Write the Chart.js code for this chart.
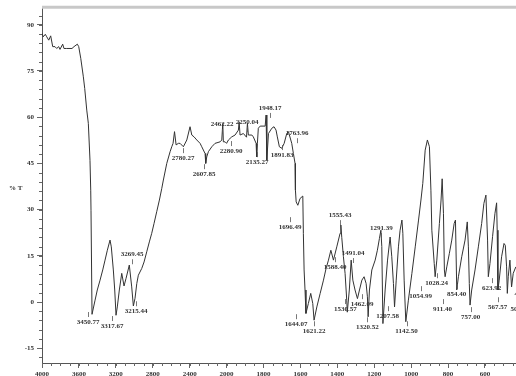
<!DOCTYPE html>
<html>
<head>
<meta charset="utf-8">
<script src="https://cdn.jsdelivr.net/npm/chart.js@4"></script>
<style>
html, body { margin: 0; padding: 0; background: #fff; overflow: hidden; }
</style>
</head>
<body>
<canvas id="ftir" width="516" height="376"></canvas>
<script>
// spectrum: wavenumber (cm-1) and %T
const waveNumbers = [
    4000, 3986, 3964, 3949, 3927, 3906, 3884, 3859, 3841, 3819, 3805, 3776, 3762, 3732, 3675, 3653,
    3617, 3602, 3580, 3552, 3537, 3515, 3498, 3480, 3472, 3469, 3458, 3425, 3401, 3371, 3342, 3317,
    3292, 3263, 3249, 3227, 3212, 3198, 3184, 3162, 3136, 3111, 3089, 3054, 3028, 3010, 2992, 2973,
    2956, 2919, 2894, 2865, 2837, 2811, 2786, 2757, 2728, 2702, 2685, 2648, 2612, 2594, 2580, 2564,
    2547, 2522, 2504, 2468, 2431, 2396, 2377, 2352, 2323, 2287, 2269, 2233, 2226, 2215, 2197, 2160,
    2125, 2070, 2052, 2041, 2035, 2016, 2000, 1990, 1972, 1954, 1936, 1932, 1927, 1909, 1892, 1887,
    1882, 1863, 1855, 1840, 1837, 1833, 1828, 1818, 1791, 1786, 1782, 1773, 1755, 1743, 1732, 1725,
    1714, 1701, 1688, 1674, 1665, 1647, 1638, 1629, 1627, 1623, 1614, 1602, 1587, 1584, 1580, 1575,
    1570, 1557, 1544, 1533, 1526, 1511, 1493, 1475, 1461, 1448, 1435, 1421, 1403, 1385, 1381, 1376,
    1367, 1358, 1349, 1346, 1335, 1325, 1316, 1304, 1291, 1280, 1267, 1255, 1244, 1237, 1233, 1226,
    1213, 1195, 1183, 1172, 1164, 1159, 1153, 1141, 1128, 1114, 1105, 1096, 1090, 1081, 1069, 1060,
    1050, 1045, 1038, 1029, 1015, 996, 978, 960, 947, 937, 924, 912, 901, 893, 888, 875,
    870, 861, 847, 838, 832, 825, 820, 816, 807, 793, 780, 767, 760, 753, 744, 726,
    708, 696, 690, 685, 681, 672, 654, 636, 618, 606, 595, 586, 582, 573, 559, 546,
    537, 534, 530, 523, 510, 497, 490, 483, 479, 474, 465, 456, 447, 433
];
const transmittance = [
    87.2, 86.1, 86.9, 86.1, 85.0, 86.4, 82.9, 82.9, 82.3, 82.9, 82.0, 83.7, 82.3, 82.3, 82.3, 82.9,
    83.7, 82.9, 79.1, 73.1, 69.3, 62.3, 58.0, 46.0, 36.3, 29.8, -4.0, 0.6, 3.9, 7.1, 10.4, 13.6,
    16.8, 20.1, 17.9, 10.4, 3.9, -4.3, -1.6, 3.9, 9.3, 5.2, 7.7, 12.0, 4.9, -1.3, 1.2, 6.0,
    8.7, 10.9, 13.0, 16.3, 19.5, 22.3, 25.5, 29.3, 33.1, 36.9, 39.6, 45.0, 48.8, 50.4, 51.5, 55.3,
    51.0, 51.5, 51.5, 50.4, 52.6, 56.9, 54.2, 53.6, 52.6, 51.5, 50.4, 48.2, 45.0, 47.1, 48.8, 50.4,
    51.5, 52.0, 52.6, 58.0, 52.0, 52.0, 51.5, 52.6, 53.6, 54.2, 55.8, 58.5, 54.2, 54.7, 53.5, 58.0,
    54.2, 54.2, 53.6, 51.5, 47.1, 51.5, 56.4, 57.1, 57.1, 60.7, 46.1, 54.7, 56.4, 56.9, 55.8, 53.6,
    50.4, 49.9, 51.5, 54.7, 55.3, 51.5, 48.2, 45.0, 36.3, 32.5, 31.4, 33.6, 34.4, 22.3, 10.4, 3.9,
    -3.7, -0.5, 2.8, -0.5, -5.9, -1.6, 2.8, 7.1, 10.9, 13.6, 16.8, 13.6, 17.9, 22.3, 25.0, 21.0,
    14.7, 9.3, 0.6, -3.3, 3.9, 13.6, 7.1, 3.9, 1.1, 3.9, 7.1, 8.2, 6.0, 1.7, -4.8, 3.9,
    10.4, 13.6, 16.8, 20.6, 23.3, 18.0, -7.0, 3.9, 13.6, 21.1, 14.7, 6.0, -1.6, 7.1, 17.9, 23.3,
    26.6, 22.3, 7.1, -6.4, 0.6, 9.3, 17.9, 26.6, 33.1, 38.5, 49.3, 52.6, 50.4, 36.3, 23.3, 12.5,
    8.2, 13.6, 25.5, 33.1, 40.0, 28.8, 10.4, 8.2, 11.4, 15.8, 20.1, 25.5, 26.6, 3.9, 8.2, 14.7,
    20.1, 26.0, 17.9, 6.0, -1.0, 3.9, 10.4, 17.9, 25.5, 32.0, 34.7, 20.1, 8.2, 12.5, 21.2, 28.8,
    32.2, 23.3, 3.9, 7.1, 14.7, 19.0, 18.4, 11.4, 2.8, 8.2, 13.6, 4.9, 9.3, 11.4
];

// peak labels as printed on the scan, with where the text sits (wavenumber axis, %T)
const peakText = ['3450.77', '3317.67', '3269.45', '3215.44', '2780.27', '2607.85', '2462.22', '2280.90',
    '2250.04', '2135.27', '1948.17', '1891.83', '1763.96', '1696.49', '1644.07', '1621.22', '1588.40',
    '1555.43', '1491.04', '1530.57', '1462.09', '1320.52', '1291.39', '1207.58', '1142.50', '1054.99',
    '1028.24', '911.40', '854.40', '757.00', '623.92', '567.57', '503.45', '489.71'];
const peakAtWn = [3501, 3241, 3024, 2981, 2472, 2244, 2049, 1976, 1889, 1835, 1764, 1699, 1618, 1656,
    1623, 1526, 1412, 1385, 1315, 1357, 1265, 1237, 1161, 1128, 1025, 949, 862, 830, 754, 678, 564, 532, 409, 388];
const peakAtT = [-6.5, -7.8, 15.5, -3.0, 46.7, 41.5, 57.8, 49.0, 58.4, 45.4, 63.0, 47.7, 54.8, 24.3,
    -7.2, -9.5, 11.3, 28.2, 15.9, -2.3, -0.7, -8.2, 24.0, -4.6, -9.5, 1.9, 6.1, -2.3, 2.6, -4.9, 4.5, -1.7, -2.3, 2.6];
// 1 = text sits under a dip, -1 = text sits over a peak
const peakSide = [1, 1, -1, 1, 1, 1, -1, 1, -1, 1, -1, 1, -1, 1, 1, 1, 1, -1, -1, 1, 1, 1, -1, 1, 1, 1,
    1, 1, 1, 1, 1, 1, 1, 1];

const xTickLabels = [4000, 3600, 3200, 2800, 2400, 2000, 1800, 1600, 1400, 1200, 1000, 800, 600];
const yTickLabels = [90, 75, 60, 45, 30, 15, 0, -15];

// the x axis is split: 400 cm-1 per step above 2000, 200 below
function toAxis(wn) {
    return wn >= 2000 ? (4000 - wn) / 400 : 5 + (2000 - wn) / 200;
}

const serif = 'Liberation Serif';
const ink = '#333';

// minor ticks, top frame, % T title and the peak labels
const decorations = {
    id: 'decorations',
    afterDraw(chart) {
        const { ctx, chartArea: a, scales: { x, y } } = chart;
        ctx.save();
        ctx.strokeStyle = '#666';
        ctx.lineWidth = 1;
        ctx.beginPath();
        for (let v = 0; v <= x.max; v += 0.25) {
            const px = Math.round(x.getPixelForValue(v)) + 0.5;
            ctx.moveTo(px, a.bottom);
            ctx.lineTo(px, a.bottom + 3);
        }
        for (let v = -18; v <= y.max; v += 3) {
            const py = Math.round(y.getPixelForValue(v)) + 0.5;
            ctx.moveTo(a.left, py);
            ctx.lineTo(a.left - 3, py);
        }
        ctx.stroke();

        ctx.strokeStyle = '#c8c8c8';
        ctx.lineWidth = 3;
        ctx.beginPath();
        ctx.moveTo(a.left, a.top);
        ctx.lineTo(a.right, a.top);
        ctx.stroke();

        ctx.fillStyle = ink;
        ctx.font = 'bold 7px "' + serif + '"';
        ctx.textAlign = 'left';
        ctx.textBaseline = 'middle';
        ctx.fillText('% T', 9, 188);

        ctx.textAlign = 'center';
        ctx.strokeStyle = '#555';
        ctx.lineWidth = 0.8;
        peakText.forEach((t, i) => {
            const px = x.getPixelForValue(toAxis(peakAtWn[i]));
            const py = y.getPixelForValue(peakAtT[i]);
            ctx.fillText(t, px, py);
            const s = peakSide[i];
            ctx.beginPath();
            ctx.moveTo(Math.round(px) + 0.5, py - s * 5);
            ctx.lineTo(Math.round(px) + 0.5, py - s * 10);
            ctx.stroke();
        });
        ctx.restore();
    }
};

const ctx = document.getElementById('ftir').getContext('2d');
const spectrum = new Chart(ctx, {
    type: 'line',
    data: {
        datasets: [{
            data: waveNumbers.map((w, i) => ({ x: toAxis(w), y: transmittance[i] })),
            borderColor: ink,
            borderWidth: 1,
            pointRadius: 0,
            tension: 0
        }]
    },
    options: {
        responsive: false,
        animation: false,
        devicePixelRatio: 1,
        layout: { padding: { top: 7, left: 0, right: 0, bottom: 0 } },
        plugins: { legend: { display: false }, tooltip: { enabled: false } },
        scales: {
            x: {
                type: 'linear',
                min: 0,
                max: toAxis(432),
                afterBuildTicks: s => { s.ticks = xTickLabels.map(v => ({ value: toAxis(v) })); },
                afterFit: s => { s.height = 13; },
                grid: { drawOnChartArea: false, tickLength: 5, color: '#666' },
                border: { color: '#555', width: 1 },
                ticks: {
                    autoSkip: false,
                    maxRotation: 0,
                    padding: 2,
                    color: ink,
                    font: { family: serif, size: 7, weight: 'bold' },
                    callback: (v, i) => xTickLabels[i]
                }
            },
            y: {
                min: -19.8,
                max: 95.7,
                afterBuildTicks: s => { s.ticks = yTickLabels.map(v => ({ value: v })); },
                afterFit: s => { s.width = 42; },
                grid: { drawOnChartArea: false, tickLength: 5, color: '#666' },
                border: { color: '#555', width: 1 },
                ticks: {
                    padding: 3,
                    color: ink,
                    font: { family: serif, size: 7, weight: 'bold' }
                }
            }
        }
    },
    plugins: [decorations]
});
</script>
</body>
</html>
